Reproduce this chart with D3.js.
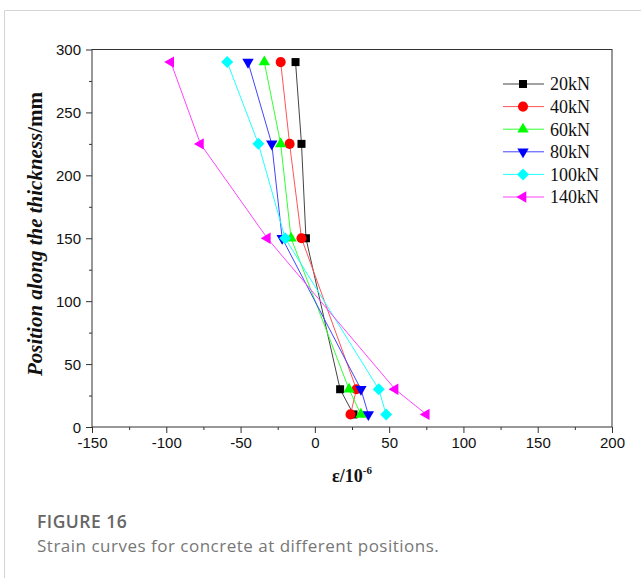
<!DOCTYPE html>
<html>
<head>
<meta charset="utf-8">
<script src="https://cdn.jsdelivr.net/npm/d3@7"></script>
<style>
  body { margin: 0; background: #fff; }
  svg { display: block; }
</style>
</head>
<body>
<svg id="chart" width="641" height="578"></svg>
<script>
"use strict";

// positions along the thickness (mm)
var positions = [290, 225, 150, 30, 10];

// strain values (1e-6) per load
var s20kN = [-13, -9, -6, 17, 26];
var s40kN = [-23, -17, -9, 28, 24];
var s60kN = [-34, -23, -16, 23, 31];
var s80kN = [-45, -29, -22, 31, 36];
var s100kN = [-59, -38, -20, 43, 48];
var s140kN = [-97, -77, -32, 54, 75];

var seriesNames = ["20kN", "40kN", "60kN", "80kN", "100kN", "140kN"];
var xTicks = [-150, -100, -50, 0, 50, 100, 150, 200];
var yTicks = [0, 50, 100, 150, 200, 250, 300];

var seriesValues = [s20kN, s40kN, s60kN, s80kN, s100kN, s140kN];
var colors = ["#000000", "#ff0000", "#00ff00", "#0000ff", "#00ffff", "#ff00ff"];
var lineColors = ["#444444", "#ff5555", "#33ff33", "#4444ff", "#22ffff", "#ff44ff"];
// symbol type and rotation for each series
var symbols = [
  { type: d3.symbolSquare, size: 64, rotate: 0 },
  { type: d3.symbolCircle, size: 80, rotate: 0 },
  { type: d3.symbolTriangle, size: 56, rotate: 0 },
  { type: d3.symbolTriangle, size: 56, rotate: 180 },
  { type: d3.symbolSquare, size: 72, rotate: 45 },
  { type: d3.symbolTriangle, size: 56, rotate: -90 }
];

var svg = d3.select("#chart");

// card frame
svg.append("line").attr("x1", 4.5).attr("x2", 641).attr("y1", 10.5).attr("y2", 10.5)
  .attr("stroke", "#d4d4d4");
svg.append("line").attr("x1", 4.5).attr("x2", 4.5).attr("y1", 10.5).attr("y2", 578)
  .attr("stroke", "#d4d4d4");

var plot = { left: 92, right: 612, top: 49.5, bottom: 427 };

var x = d3.scaleLinear().domain([-150, 200]).range([plot.left, plot.right]);
var y = d3.scaleLinear().domain([0, 300]).range([plot.bottom, plot.top]);

var axisColor = "#333";
var tickFont = "'Liberation Sans', Arial, Helvetica, sans-serif";
var serifFont = "'Liberation Serif', 'Times New Roman', serif";
var plainNumber = function (d) { return String(d); };

// minor ticks
var xMinor = d3.range(-125, 200, 50);
var yMinor = d3.range(25, 300, 50);

var xAxisG = svg.append("g")
  .attr("transform", "translate(0," + plot.bottom + ")")
  .call(d3.axisBottom(x).tickValues(xTicks).tickSize(6).tickPadding(4).tickFormat(plainNumber));
var xMinorG = svg.append("g")
  .attr("transform", "translate(0," + plot.bottom + ")")
  .call(d3.axisBottom(x).tickValues(xMinor).tickSize(3).tickFormat(""));

var yAxisG = svg.append("g")
  .attr("transform", "translate(" + plot.left + ",0)")
  .call(d3.axisLeft(y).tickValues(yTicks).tickSize(6).tickPadding(5).tickFormat(plainNumber));
var yMinorG = svg.append("g")
  .attr("transform", "translate(" + plot.left + ",0)")
  .call(d3.axisLeft(y).tickValues(yMinor).tickSize(3).tickFormat(""));

[xAxisG, xMinorG, yAxisG, yMinorG].forEach(function (g) {
  g.attr("font-family", tickFont).attr("font-size", 15);
  g.select(".domain").remove();
  g.selectAll("line").attr("stroke", axisColor);
  g.selectAll("text").attr("fill", "#111");
});
yAxisG.selectAll("text").attr("dy", "0.36em");

// plot frame
svg.append("rect")
  .attr("x", plot.left).attr("y", plot.top)
  .attr("width", plot.right - plot.left).attr("height", plot.bottom - plot.top)
  .attr("fill", "none").attr("stroke", axisColor).attr("stroke-width", 1);

var line = d3.line()
  .x(function (d) { return x(d[0]); })
  .y(function (d) { return y(d[1]); });

function symbolPath(i) {
  return d3.symbol().type(symbols[i].type).size(symbols[i].size)();
}

var seriesG = svg.append("g")
  .selectAll("g.series")
  .data(seriesValues)
  .enter()
  .append("g")
  .attr("class", "series");

seriesG.append("path")
  .attr("d", function (d) {
    return line(d.map(function (v, j) { return [v, positions[j]]; }));
  })
  .attr("fill", "none")
  .attr("stroke", function (d, i) { return lineColors[i]; })
  .attr("stroke-width", 1);

seriesG.each(function (values, i) {
  d3.select(this).selectAll("path.marker")
    .data(values)
    .enter()
    .append("path")
    .attr("class", "marker")
    .attr("d", symbolPath(i))
    .attr("transform", function (v, j) {
      return "translate(" + x(v) + "," + y(positions[j]) + ") rotate(" + symbols[i].rotate + ")";
    })
    .attr("fill", colors[i]);
});

// legend
var legend = svg.append("g").attr("transform", "translate(503,84)");
var legendRows = legend.selectAll("g")
  .data(seriesNames)
  .enter()
  .append("g")
  .attr("transform", function (d, i) { return "translate(0," + (i * 22.6) + ")"; });

legendRows.append("line")
  .attr("x1", 0).attr("x2", 41).attr("y1", 0).attr("y2", 0)
  .attr("stroke", function (d, i) { return lineColors[i]; });
legendRows.append("path")
  .attr("d", function (d, i) { return symbolPath(i); })
  .attr("transform", function (d, i) { return "translate(20,0) rotate(" + symbols[i].rotate + ")"; })
  .attr("fill", function (d, i) { return colors[i]; });
legendRows.append("text")
  .attr("x", 47)
  .attr("dy", "0.35em")
  .attr("fill", "#111")
  .style("font-family", serifFont)
  .style("font-size", "18px")
  .text(function (d) { return d; });

// axis titles
var xTitle = svg.append("text")
  .attr("x", 352).attr("y", 482)
  .attr("text-anchor", "middle")
  .attr("fill", "#111")
  .style("font-family", serifFont)
  .style("font-weight", "bold")
  .style("font-size", "18px");
xTitle.append("tspan").text("ε/10");
xTitle.append("tspan").attr("dy", -8).style("font-size", "11px").text("-6");

var yTitle = svg.append("text")
  .attr("transform", "translate(42,234) rotate(-90)")
  .attr("text-anchor", "middle")
  .attr("fill", "#111")
  .style("font-family", serifFont)
  .style("font-weight", "bold")
  .style("font-size", "21px");
yTitle.append("tspan").style("font-style", "italic").text("Position along the thickness");
yTitle.append("tspan").text("/mm");

// caption
svg.append("text")
  .attr("x", 37).attr("y", 528)
  .attr("fill", "#666")
  .style("font-family", "'Open Sans', 'Noto Sans', sans-serif")
  .style("font-weight", "600")
  .style("font-size", "17.5px")
  .style("letter-spacing", "0.5px")
  .text("FIGURE 16");
svg.append("text")
  .attr("x", 37).attr("y", 552)
  .attr("fill", "#777")
  .style("font-family", "'Open Sans', 'Noto Sans', sans-serif")
  .style("font-size", "17px")
  .style("letter-spacing", "0.5px")
  .text("Strain curves for concrete at different positions.");
</script>
</body>
</html>
